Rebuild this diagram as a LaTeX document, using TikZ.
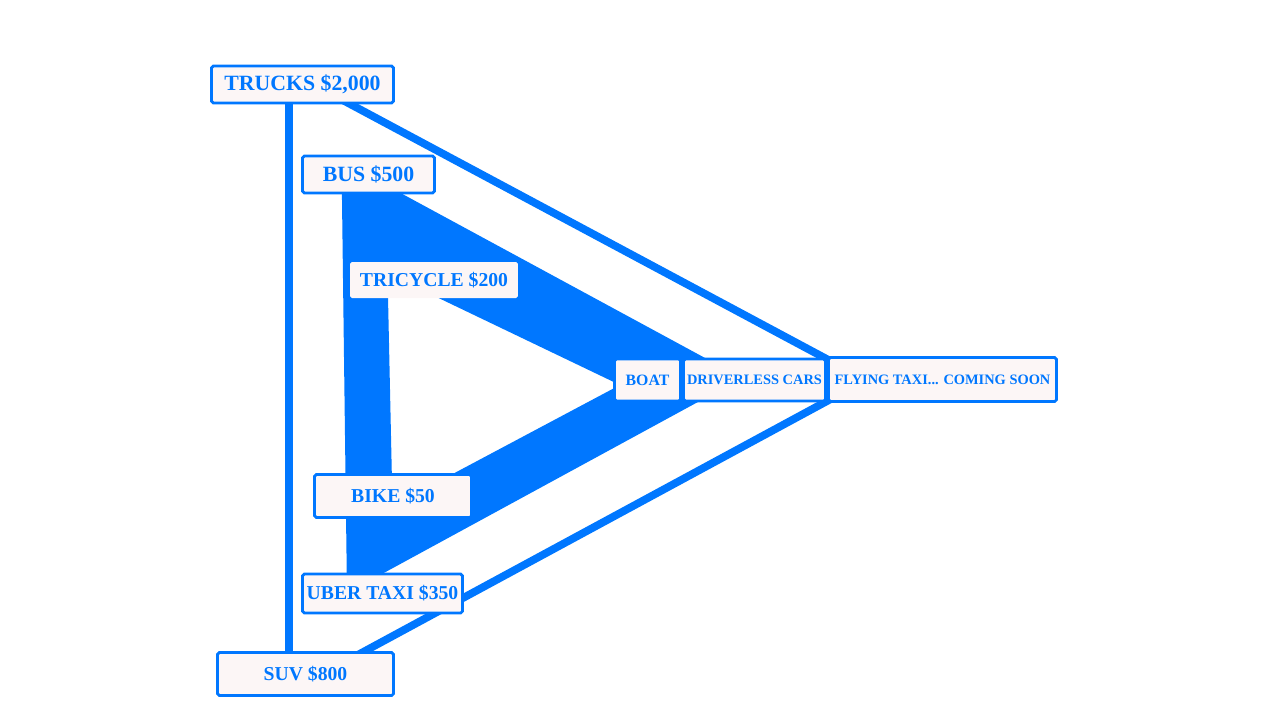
\documentclass[tikz,border=0pt]{standalone}
\usepackage{fontspec}
\setmainfont{Liberation Serif}
\usetikzlibrary{backgrounds}

\definecolor{tblue}{RGB}{0,119,255}
\definecolor{tcard}{RGB}{252,246,246}

\tikzset{
  card/.style={draw=tblue, line width=1.6pt, fill=tcard, rounded corners=1pt,
    text=tblue, inner sep=0pt},
  bigtxt/.style={font=\fontsize{12.4}{14}\selectfont\bfseries},
  midtxt/.style={font=\fontsize{11.2}{13}\selectfont\bfseries},
  smalltxt/.style={font=\fontsize{8.2}{10}\selectfont\bfseries},
  link/.style={draw=tblue, line width=4.4pt}
}

\begin{document}
\begin{tikzpicture}[x=0.02cm,y=-0.02cm]
      \useasboundingbox (0,0) rectangle (1270,720);

      %%% outer triangle %%%
      \node (trucks) at (302.5,84.5) [card, bigtxt, minimum width=3.64cm, minimum height=0.74cm] {TRUCKS \$2,000};
      \node (suv) at (305.5,674) [card, midtxt, minimum width=3.52cm, minimum height=0.86cm] {SUV \$800};
      \node (flying) at (942.5,379.5) [card, smalltxt, minimum width=4.56cm, minimum height=0.88cm] {FLYING TAXI... COMING SOON};
      \coordinate (flyin) at (866,380);

      %%% middle triangle %%%
      \node (bus) at (368.5,174.5) [card, bigtxt, minimum width=2.64cm, minimum height=0.74cm] {BUS \$500};
      \node (uber) at (382.5,593.5) [card, midtxt, minimum width=3.2cm, minimum height=0.78cm] {UBER TAXI \$350};
      \node (driverless) at (754.5,380) [card, smalltxt, minimum width=2.84cm, minimum height=0.84cm] {DRIVERLESS CARS};

      %%% inner triangle %%%
      \node (tricycle) at (434,280) [card, draw=none, midtxt, minimum width=3.36cm, minimum height=0.72cm] {TRICYCLE \$200};
      \node (bike) at (393,496) [card, midtxt, minimum width=3.14cm, minimum height=0.86cm] {BIKE \$50};
      \node (boat) at (647.5,380) [card, font=\fontsize{9}{11}\selectfont\bfseries, minimum width=1.32cm, minimum height=0.84cm] {BOAT};

      % band between middle and inner triangle
      \coordinate (o1) at (341.5,161);
      \coordinate (o2) at (742,378);
      \coordinate (o3) at (347,593);
      \coordinate (i1) at (387.5,273.5);
      \coordinate (i2) at (620,385);
      \coordinate (i3) at (392.5,506);

      \begin{scope}[on background layer]
      \fill[tblue, even odd rule]
      (o1) -- (o2) -- (o3) -- cycle
      (i1) -- (i2) -- (i3) -- cycle;

      \draw[link]
      ([xshift=-0.27cm]trucks.center) to ([xshift=-0.33cm]suv.center)
      ([xshift=0.22cm]trucks.center) to (flyin)
      ([xshift=0.34cm]suv.center) to (flyin);
      \end{scope}

    \end{tikzpicture}
\end{document}
